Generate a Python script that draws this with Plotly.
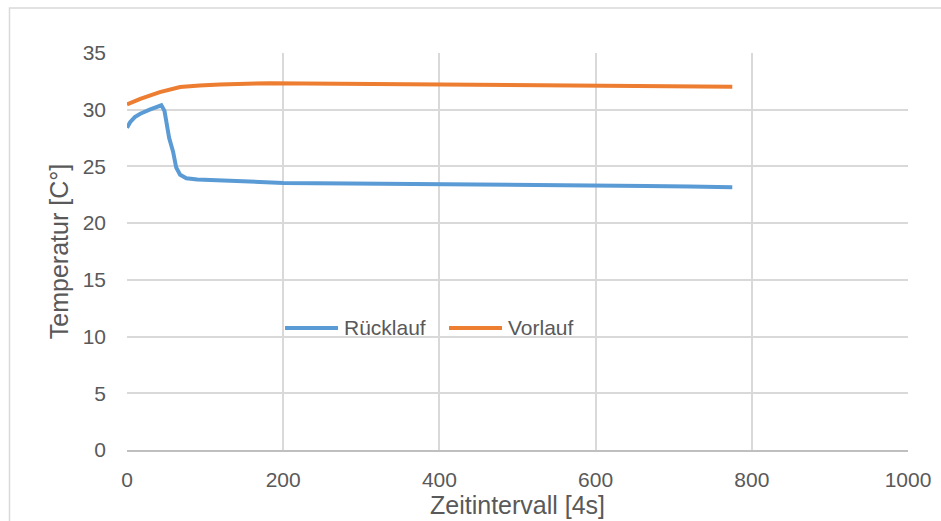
import plotly.graph_objects as go

# Rücklauf (return flow) temperature, sampled in 4 s intervals
ruecklauf_t = [0, 4, 10, 17, 29, 38, 44, 48, 51, 54, 59, 63, 68, 76, 90, 119,
               160, 200, 285, 413, 500, 600, 665, 720, 775]
ruecklauf_temp = [28.4, 28.9, 29.35, 29.65, 30.0, 30.25, 30.39, 29.9, 28.6, 27.5,
                  26.3, 24.9, 24.27, 23.95, 23.85, 23.75, 23.68, 23.55, 23.5,
                  23.45, 23.4, 23.3, 23.28, 23.22, 23.16]

# Vorlauf (supply flow) temperature
vorlauf_t = [0, 17, 42, 68, 93, 119, 183, 264, 413, 500, 600, 665, 720, 775]
vorlauf_temp = [30.47, 30.96, 31.55, 32.0, 32.14, 32.23, 32.34, 32.3, 32.17,
                32.15, 32.14, 32.13, 32.08, 32.02]

series_names = ["Rücklauf", "Vorlauf"]
series_colors = ["#5B9BD5", "#ED7D31"]

x_ticks = [0, 200, 400, 600, 800, 1000]
y_ticks = [0, 5, 10, 15, 20, 25, 30, 35]

FONT = "Liberation Sans, Arial, sans-serif"
TEXT = "#595959"
GRID = "#D9D9D9"

# plot area geometry in pixels
L, R, T, B = 127, 33, 53, 71
W, H = 941, 521
PW, PH = W - L - R, H - T - B


def px_x(p):
    return (p - L) / PW


def px_y(p):
    return (H - B - p) / PH


fig = go.Figure()
for name, color, xs, ys in zip(series_names, series_colors,
                               [ruecklauf_t, vorlauf_t],
                               [ruecklauf_temp, vorlauf_temp]):
    fig.add_trace(go.Scatter(x=xs, y=ys, mode="lines", name=name,
                             line=dict(color=color, width=4), showlegend=False))

# legend drawn inside the plot area with long line samples
shapes = []
annotations = []
legend_y = px_y(328)
for name, color, x_start in zip(series_names, series_colors, [285, 449]):
    shapes.append(dict(type="line", xref="paper", yref="paper",
                       x0=px_x(x_start), x1=px_x(x_start + 53),
                       y0=legend_y, y1=legend_y,
                       line=dict(color=color, width=4)))
    annotations.append(dict(xref="paper", yref="paper", x=px_x(x_start + 57),
                            y=legend_y, xanchor="left", yanchor="middle",
                            text=name, showarrow=False,
                            font=dict(family=FONT, size=21, color=TEXT)))

# x axis title, centred under the plot area
annotations.append(dict(xref="paper", yref="paper", x=0.5, y=px_y(505),
                        xanchor="center", yanchor="middle",
                        text="Zeitintervall [4s]", showarrow=False,
                        font=dict(family=FONT, size=25, color=TEXT)))

# outer chart frame
shapes.append(dict(type="rect", xref="paper", yref="paper",
                   x0=px_x(9.5), x1=px_x(960), y0=px_y(540), y1=px_y(8),
                   line=dict(color=GRID, width=1.5), fillcolor="rgba(0,0,0,0)",
                   layer="below"))

fig.update_layout(
    width=W, height=H,
    margin=dict(l=L, r=R, t=T, b=B),
    paper_bgcolor="white", plot_bgcolor="white",
    font=dict(family=FONT, size=21, color=TEXT),
    showlegend=False,
    xaxis=dict(range=[0, 1000], tickvals=x_ticks, showgrid=True, gridcolor=GRID,
               gridwidth=1.5, zeroline=False, showline=True, linecolor="#BFBFBF",
               linewidth=2, ticks="", ticklabelstandoff=10, automargin=False),
    yaxis=dict(range=[0, 35], tickvals=y_ticks, showgrid=True, gridcolor=GRID,
               gridwidth=1.5, zeroline=False, showline=False, ticks="",
               ticklabelstandoff=20, automargin=False,
               title=dict(text="Temperatur [C°]", font=dict(size=25, color=TEXT),
                          standoff=6)),
    shapes=shapes,
    annotations=annotations,
)

fig.write_html("out.html")
